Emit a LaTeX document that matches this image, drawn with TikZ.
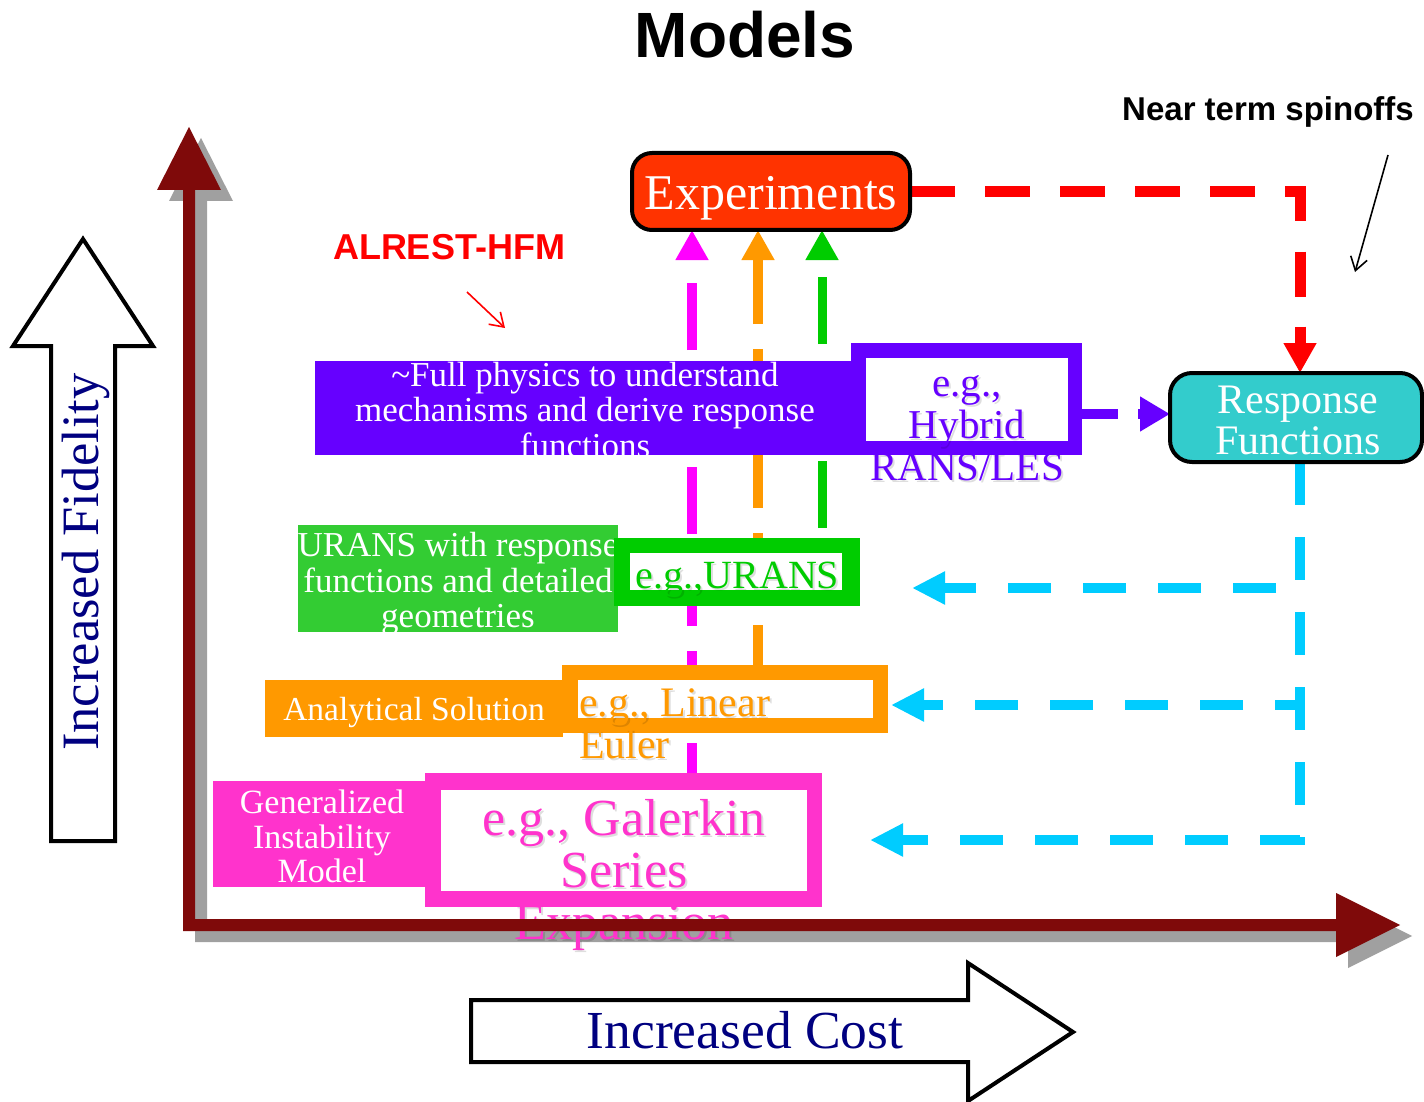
\documentclass[tikz,border=0pt]{standalone}
\usepackage{fontspec}
\setmainfont{Liberation Serif}
\newfontfamily\headsans{Liberation Sans}
\usetikzlibrary{arrows.meta,backgrounds}

\definecolor{axisred}{HTML}{7F0A0A}
\definecolor{axisshade}{HTML}{A0A0A0}
\definecolor{expfill}{HTML}{FF3300}
\definecolor{respfill}{HTML}{33CCCC}
\definecolor{hfmviolet}{HTML}{6600FF}
\definecolor{uranslight}{HTML}{33CC33}
\definecolor{uransgreen}{HTML}{00CC00}
\definecolor{eulerorange}{HTML}{FF9900}
\definecolor{galpink}{HTML}{FF33CC}
\definecolor{galmagenta}{HTML}{FF00FF}
\definecolor{feedcyan}{HTML}{00CCFF}
\definecolor{labelnavy}{HTML}{000080}

\newcommand\fsz[2]{\fontsize{#1pt}{#2pt}\selectfont}

\begin{document}
\begin{tikzpicture}[x=1pt,y=-1pt,
  box/.style={rectangle, inner sep=0pt, outer sep=0pt, draw=none},
  txt/.style={inner sep=0pt, outer sep=0pt},
  egshade/.style={txt, text=black, text opacity=0.13, xshift=2pt, yshift=-2pt},
  tipbig/.style={-{Triangle[length=30pt,width=31pt]}},
  feed/.style={line width=10pt, dash pattern=on 43pt off 32pt},
  upflow/.style={line width=10pt, tipbig},
  thinarrow/.style={line width=1.6pt, -{Straight Barb[length=13pt,width=17pt,line width=1.6pt]}},
  blockarrow/.style={draw=black, line width=4pt, fill=white, line join=miter},
]
\useasboundingbox (0,0) rectangle (1424,1102);

% ---------------- column / row helpers for the connectors
\coordinate (mx) at (692,0);
\coordinate (ox) at (758,0);
\coordinate (gx) at (822,0);
\coordinate (rx) at (1300,0);
\coordinate (py) at (0,414);
\coordinate (c1) at (912,588);
\coordinate (c2) at (891,705);
\coordinate (c3) at (870,840);

% ---------------- top level boxes
\node[box, draw=black, line width=4pt, fill=expfill, rounded corners=20pt,
      minimum width=278pt, minimum height=77pt] (exp) at (771,191.5) {};
\node[txt, anchor=base, text=white, font=\fsz{50}{50}] (expT) at (771,210) {Experiments};

\node[box, draw=black, line width=4pt, fill=respfill, rounded corners=22pt,
      minimum width=252pt, minimum height=89pt] (resp) at (1296,417.5) {};
\node[txt, align=center, text=white, font=\fsz{42}{41}] (respT) at (1298,426)
  {\strut Response\\\strut Functions};

% ---------------- full physics row
\node[box, fill=hfmviolet, minimum width=547pt, minimum height=94pt] (full) at (588.5,408) {};
\node[txt, align=center, text=white, font=\fsz{35}{34}] (fullT) at (585,415)
  {\strut\textasciitilde Full physics to understand\\\strut mechanisms and derive response\\\strut functions};
\node[box, fill=hfmviolet, minimum width=231pt, minimum height=112pt] (hybOut) at (966.5,399) {};
\node[box, fill=white, minimum width=202pt, minimum height=83pt] (hybIn) at (967,399.5) {};
\node[egshade, align=center, font=\fsz{41}{42}] (hybS) at (967,430)
  {\strut e.g.,\\\strut Hybrid\\\strut RANS/LES};
\node[txt, align=center, text=hfmviolet, font=\fsz{41}{42}] (hybT) at (967,430)
  {\strut e.g.,\\\strut Hybrid\\\strut RANS/LES};

% ---------------- URANS row
\node[box, fill=uranslight, minimum width=320pt, minimum height=107pt] (uransL) at (458,578.5) {};
\node[txt, align=center, text=white, font=\fsz{35}{35}] (uransLT) at (458,585)
  {\strut URANS with response\\\strut functions and detailed\\\strut geometries};
\node[box, fill=uransgreen, minimum width=246pt, minimum height=68pt] (uransOut) at (737,572) {};
\node[box, fill=white, minimum width=212pt, minimum height=37pt] (uransIn) at (736,571.5) {};
\node[egshade, anchor=base, font=\fsz{40}{40}] (uransS) at (737.5,588) {e.g.,URANS};
\node[txt, anchor=base, text=uransgreen, font=\fsz{40}{40}] (uransT) at (737.5,588) {e.g.,URANS};

% ---------------- analytical row
\node[box, fill=eulerorange, minimum width=298pt, minimum height=57pt] (anaL) at (414,708.5) {};
\node[txt, anchor=base, text=white, font=\fsz{33.5}{34}] (anaT) at (414,720) {Analytical Solution};
\node[box, fill=eulerorange, minimum width=326pt, minimum height=68pt] (linOut) at (725,699) {};
\node[box, fill=white, minimum width=295pt, minimum height=38pt] (linIn) at (725.5,699) {};
\node[egshade, anchor=west, align=left, font=\fsz{42}{42}] (linS) at (579,728.6)
  {\strut e.g., Linear\\\strut Euler};
\node[txt, anchor=west, align=left, text=eulerorange, font=\fsz{42}{42}] (linT) at (579,728.6)
  {\strut e.g., Linear\\\strut Euler};

% ---------------- instability model row
\node[box, fill=galpink, minimum width=219pt, minimum height=106pt] (genL) at (322.5,834) {};
\node[txt, align=center, text=white, font=\fsz{34}{34.5}] (genT) at (322,841.5)
  {\strut Generalized\\\strut Instability\\\strut Model};
\node[box, fill=galpink, minimum width=397pt, minimum height=134pt] (galOut) at (623.5,840) {};
\node[box, fill=white, minimum width=366pt, minimum height=101pt] (galIn) at (624,840.5) {};
\node[egshade, align=center, font=\fsz{52}{52}] (galS) at (624,877)
  {\strut e.g., Galerkin\\\strut Series\\\strut Expansion};
\node[txt, align=center, text=galpink, font=\fsz{52}{52}] (galT) at (624,877)
  {\strut e.g., Galerkin\\\strut Series\\\strut Expansion};

% ---------------- axes: the drop shadow sits beneath the labels
\coordinate (origin) at (189,925);
\coordinate (ytip) at (189,127);
\coordinate (xtip) at (1400,925);

% ---------------- connectors, kept behind the boxes
\begin{pgfonlayer}{background}
  \fill[white] (0,0) rectangle (1424,1102);
  \begin{scope}[shift={(12,11)}]
    \fill[axisshade] (183,931) -- (183,190) -- (157,190) -- (189,127) -- (221,190)
      -- (195,190) -- (195,919) -- (1336,919) -- (1336,893) -- (1400,925)
      -- (1336,957) -- (1336,931) -- cycle;
  \end{scope}
  % validation paths up to the experiments
  \draw[upflow, galmagenta, dash pattern=on 67pt off 25pt, dash phase=37pt]
    (galOut.north -| mx) -- (exp.south -| mx);
  \draw[upflow, eulerorange, dash pattern=on 67pt off 25pt, dash phase=27pt]
    (linOut.north -| ox) -- (exp.south -| ox);
  \draw[upflow, uransgreen, line width=9pt, dash pattern=on 67pt off 25pt, dash phase=82pt]
    (uransOut.north -| gx) -- (exp.south -| gx);
  % experiments feed the response functions
  \draw[red, line width=11pt, dash pattern=on 45pt off 30pt, tipbig]
    (exp.east) -| (resp.north -| rx);
  % hybrid model derives the response functions
  \draw[hfmviolet, line width=10pt, dash pattern=on 36pt off 20pt,
        -{Triangle[length=30pt,width=33pt]}]
    (hybOut.east |- py) -- (resp.west |- py);
  % response functions fed back to the lower fidelity models
  \draw[feed, feedcyan, -{Triangle[length=33pt,width=31pt]}] (resp.south -| rx) |- (c3);
  \draw[feed, feedcyan, -{Triangle[length=33pt,width=31pt]}] (resp.south -| rx) |- (c2);
  \draw[feed, feedcyan, -{Triangle[length=33pt,width=31pt]}] (resp.south -| rx) |- (c1);
\end{pgfonlayer}

% ---------------- cost and fidelity axes
\fill[axisred] (183,931) -- (183,190) -- (157,190) -- (ytip) -- (221,190)
  -- (195,190) -- (195,919) -- (1336,919) -- (1336,893) -- (xtip)
  -- (1336,957) -- (1336,931) -- cycle;

% ---------------- block arrows with their labels
\draw[blockarrow] (51,841) -- (51,346) -- (13,346) -- (83,239) -- (153,346)
  -- (115,346) -- (115,841) -- cycle;
\node[txt, rotate=90, anchor=base, text=labelnavy, font=\fsz{52.5}{52}] (fidT) at (98,562)
  {Increased Fidelity};
\draw[blockarrow] (471,1000) -- (968,1000) -- (968,963) -- (1073,1032) -- (968,1101)
  -- (968,1062) -- (471,1062) -- cycle;
\node[txt, anchor=base, text=labelnavy, font=\fsz{53.5}{54}] (costT) at (745,1048)
  {Increased Cost};

% ---------------- titles and annotations
\node[txt, anchor=base, font=\headsans\bfseries\fsz{64}{64}] (title) at (745,58) {Models};
\node[txt, anchor=base, font=\headsans\bfseries\fsz{33}{33}] (spin) at (1268,121) {Near term spinoffs};
\node[txt, anchor=base, text=red, font=\headsans\bfseries\fsz{36}{36}] (alrest) at (449,259) {ALREST-HFM};
\coordinate (spinA) at (1388,155);
\coordinate (spinB) at (1355,272);
\coordinate (alrA) at (467,292);
\coordinate (alrB) at (505,328);
\draw[thinarrow, black] (spinA) -- (spinB);
\draw[thinarrow, red] (alrA) -- (alrB);
\end{tikzpicture}
\end{document}
